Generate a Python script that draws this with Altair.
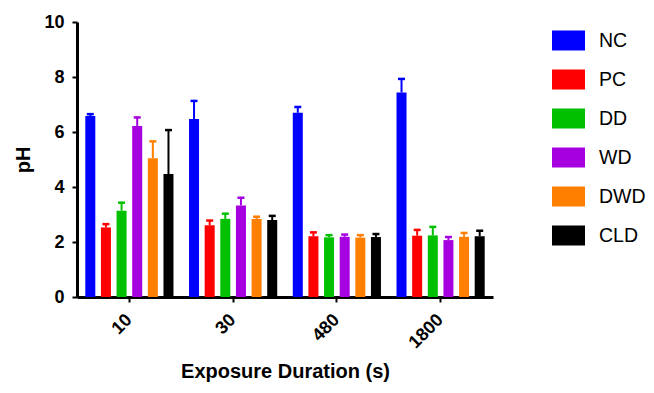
import altair as alt
import pandas as pd

durations = ["10", "30", "480", "1800"]
series = ["NC", "PC", "DD", "WD", "DWD", "CLD"]
colors = ["#0000FF", "#FF0000", "#00C000", "#A600E0", "#FF8000", "#000000"]

NC_mean = [6.58, 6.47, 6.70, 7.44]
NC_err = [0.07, 0.66, 0.21, 0.49]
PC_mean = [2.53, 2.61, 2.21, 2.23]
PC_err = [0.12, 0.17, 0.14, 0.21]
DD_mean = [3.14, 2.84, 2.17, 2.24]
DD_err = [0.29, 0.19, 0.08, 0.31]
WD_mean = [6.22, 3.33, 2.19, 2.07]
WD_err = [0.31, 0.28, 0.08, 0.11]
DWD_mean = [5.05, 2.84, 2.16, 2.19]
DWD_err = [0.61, 0.08, 0.09, 0.14]
CLD_mean = [4.47, 2.80, 2.18, 2.21]
CLD_err = [1.60, 0.15, 0.11, 0.20]

means = [NC_mean, PC_mean, DD_mean, WD_mean, DWD_mean, CLD_mean]
errs = [NC_err, PC_err, DD_err, WD_err, DWD_err, CLD_err]

rows = []
for s, m, e in zip(series, means, errs):
    for d, mv, ev in zip(durations, m, e):
        rows.append({"Duration": d, "Group": s, "pH": mv, "upper": mv + ev})
df = pd.DataFrame(rows)

FONT = "Liberation Sans"

x_enc = alt.X(
    "Duration:N",
    sort=durations,
    scale=alt.Scale(paddingInner=0.15, paddingOuter=0.08),
    axis=alt.Axis(
        title="Exposure Duration (s)",
        labelAngle=-45,
        labelFontSize=18,
        labelFontWeight="bold",
        labelFont=FONT,
        labelColor="black",
        labelPadding=15,
        labelBaseline="middle",
        labelAlign="right",
        titleFontSize=20,
        titleFontWeight="bold",
        titleFont=FONT,
        titleColor="black",
        titlePadding=10,
        domainColor="black",
        domainWidth=3,
        tickColor="black",
        tickWidth=2,
        tickSize=5,
    ),
)
xo_enc = alt.XOffset(
    "Group:N", sort=series, scale=alt.Scale(paddingInner=0.36, paddingOuter=0)
)
color_enc = alt.Color(
    "Group:N",
    sort=series,
    scale=alt.Scale(domain=series, range=colors),
    legend=alt.Legend(
        title=None,
        orient="none",
        legendX=475,
        legendY=2,
        padding=0,
        symbolType="M-1,-0.6L1,-0.6L1,0.6L-1,0.6Z",
        symbolSize=1089,
        symbolStrokeWidth=0,
        symbolOpacity=1,
        labelFontSize=19.5,
        labelFont=FONT,
        labelColor="black",
        labelOffset=14,
        rowPadding=12,
    ),
)

y_scale = alt.Scale(domain=[0, 10], nice=False)

bars = alt.Chart(df).mark_bar(opacity=1).encode(
    x=x_enc,
    xOffset=xo_enc,
    y=alt.Y(
        "pH:Q",
        scale=y_scale,
        axis=alt.Axis(
            title="pH",
            values=[0, 2, 4, 6, 8, 10],
            grid=False,
            labelFontSize=18,
            labelFontWeight="bold",
            labelFont=FONT,
            labelColor="black",
            labelPadding=8,
            titleFontSize=20,
            titleFontWeight="bold",
            titleFont=FONT,
            titleColor="black",
            titlePadding=10,
            domainColor="black",
            domainWidth=3,
            tickColor="black",
            tickWidth=2,
            tickSize=5,
        ),
    ),
    color=color_enc,
)

rules = alt.Chart(df).mark_rule(strokeWidth=2).encode(
    x=alt.X("Duration:N", sort=durations),
    xOffset=alt.XOffset("Group:N", sort=series),
    y=alt.Y("pH:Q", scale=y_scale),
    y2="upper:Q",
    color=alt.Color("Group:N", sort=series, legend=None),
)

caps = alt.Chart(df).mark_tick(size=7, thickness=2.5, opacity=1).encode(
    x=alt.X("Duration:N", sort=durations),
    xOffset=alt.XOffset("Group:N", sort=series),
    y=alt.Y("upper:Q", scale=y_scale),
    color=alt.Color("Group:N", sort=series, legend=None),
)

chart = (
    alt.layer(bars, rules, caps)
    .properties(
        width=416,
        height=275,
        autosize=alt.AutoSizeParams(type="none"),
        padding={"left": 69, "top": 14, "right": 153, "bottom": 88},
    )
    .configure_view(stroke=None)
    .configure_axis(grid=False)
)

chart.save("out.html", embed_options={"renderer": "svg", "actions": False})
